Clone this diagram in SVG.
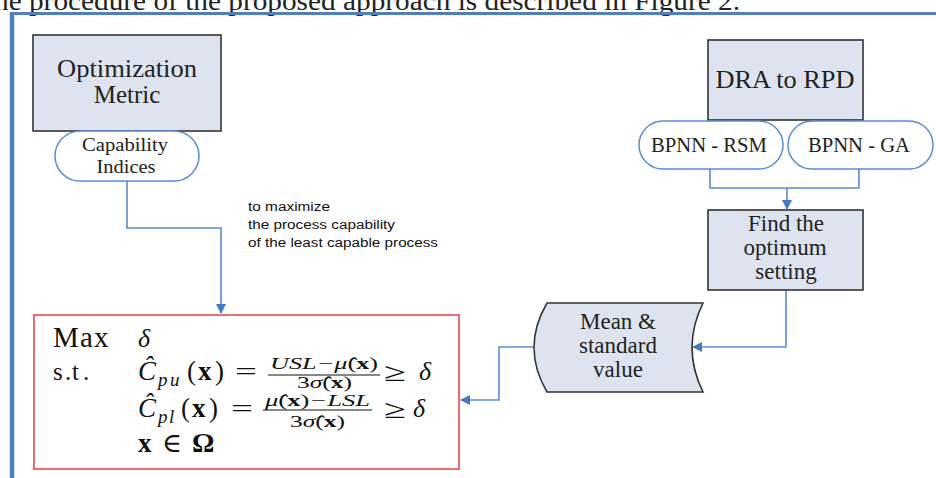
<svg xmlns="http://www.w3.org/2000/svg" width="936" height="478" viewBox="0 0 936 478">
  <style>
    .serif { font-family: "Liberation Serif", "Times New Roman", serif; fill: #222; }
    .box { fill: #dde4f0; stroke: #333; stroke-width: 1.6; }
    .pill { fill: #fff; stroke: #5b8bd3; stroke-width: 1.5; }
    .wire { fill: none; stroke: #5b8bd3; stroke-width: 1.6; }
    .note { font-family: "Liberation Sans", Arial, sans-serif; font-size: 12px; fill: #111; }
    .math { font-family: "Liberation Serif", "DejaVu Serif", serif; fill: #111; }
    .it { font-style: italic; }
    .bf { font-weight: bold; }
  </style>
  <defs>
    <marker id="arrow" markerWidth="10" markerHeight="10" refX="9" refY="5" orient="auto" markerUnits="userSpaceOnUse">
      <path d="M0,0 L10,5 L0,10 Z" fill="#4677c4"/>
    </marker>
  </defs>

  <rect width="936" height="478" fill="#fff"/>

  <!-- running text line above the figure -->
  <text class="serif" x="-6" y="10" font-size="27" textLength="746" lengthAdjust="spacingAndGlyphs">he procedure of the proposed approach is described in Figure 2.</text>

  <!-- figure frame -->
  <g id="frame">
    <line x1="10" y1="13.5" x2="936" y2="13.5" stroke="#4f7fbc" stroke-width="3"/>
    <line x1="12" y1="12" x2="12" y2="478" stroke="#4f7fbc" stroke-width="4.5"/>
  </g>

  <!-- connectors -->
  <g id="connectors">
    <path class="wire" d="M127,181 V228 H221 V313" marker-end="url(#arrow)"/>
    <path class="wire" d="M710,169 V188 H859 V169"/>
    <path class="wire" d="M787,188 V209" marker-end="url(#arrow)"/>
    <path class="wire" d="M786,290 V347 H693" marker-end="url(#arrow)"/>
    <path class="wire" d="M534,347 H499 V400 H461" marker-end="url(#arrow)"/>
  </g>

  <g id="optimization-metric">
    <rect class="box" x="33" y="35" width="188" height="96"/>
    <text class="serif" x="127" y="77" font-size="25" text-anchor="middle" textLength="140" lengthAdjust="spacingAndGlyphs">Optimization</text>
    <text class="serif" x="127" y="103" font-size="25" text-anchor="middle">Metric</text>
  </g>

  <g id="capability-indices">
    <rect class="pill" x="55" y="131" width="144" height="50" rx="25" ry="25"/>
    <text class="serif" x="125" y="151" font-size="19" text-anchor="middle" textLength="86" lengthAdjust="spacingAndGlyphs">Capability</text>
    <text class="serif" x="126" y="173" font-size="19" text-anchor="middle" textLength="59" lengthAdjust="spacingAndGlyphs">Indices</text>
  </g>

  <g id="objective-note">
    <text class="note" x="248" y="211" textLength="82" lengthAdjust="spacingAndGlyphs">to maximize</text>
    <text class="note" x="248" y="229" textLength="147" lengthAdjust="spacingAndGlyphs">the process capability</text>
    <text class="note" x="248" y="247" textLength="190" lengthAdjust="spacingAndGlyphs">of the least capable process</text>
  </g>

  <g id="dra-to-rpd">
    <rect class="box" x="708" y="40" width="155" height="80"/>
    <text class="serif" x="785" y="88" font-size="26" text-anchor="middle" textLength="139" lengthAdjust="spacingAndGlyphs">DRA to RPD</text>
  </g>

  <g id="bpnn-rsm">
    <rect class="pill" x="639" y="121" width="144" height="48" rx="24" ry="24"/>
    <text class="serif" x="709" y="152" font-size="20" text-anchor="middle" textLength="116" lengthAdjust="spacingAndGlyphs">BPNN - RSM</text>
  </g>

  <g id="bpnn-ga">
    <rect class="pill" x="788" y="121" width="145" height="48" rx="24" ry="24"/>
    <text class="serif" x="859" y="152" font-size="20" text-anchor="middle" textLength="102" lengthAdjust="spacingAndGlyphs">BPNN - GA</text>
  </g>

  <g id="find-optimum">
    <rect class="box" x="708" y="210" width="155" height="80"/>
    <text class="serif" x="786" y="231" font-size="23" text-anchor="middle">Find the</text>
    <text class="serif" x="785" y="255" font-size="23" text-anchor="middle">optimum</text>
    <text class="serif" x="786" y="279" font-size="23" text-anchor="middle">setting</text>
  </g>

  <g id="mean-standard">
    <path class="box" d="M547,303 H703 Q681,347.5 703,392 H547 Q521,347.5 547,303 Z"/>
    <text class="serif" x="618" y="329" font-size="23" text-anchor="middle">Mean &amp;</text>
    <text class="serif" x="618" y="353" font-size="23" text-anchor="middle">standard</text>
    <text class="serif" x="618" y="377" font-size="23" text-anchor="middle">value</text>
  </g>

  <g id="optimization-model">
    <rect x="34" y="315" width="425" height="154" fill="#fff" stroke="#e8484f" stroke-width="1.6"/>
    <!-- objective -->
    <text class="math" x="53 80 94" y="347" font-size="29">Max</text>
    <text class="math it" x="138" y="347" font-size="26">δ</text>
    <!-- upper capability constraint -->
    <text class="math" x="53 65 72 83" y="380" font-size="25">s.t.</text>
    <text class="math it" x="138" y="380" font-size="27">Ĉ</text>
    <text class="math it" x="158 170" y="386" font-size="19">pu</text>
    <text class="math" x="187 198 215" y="380" font-size="27">(<tspan class="bf">x</tspan>)</text>
    <text class="math" x="235" y="380" font-size="26" textLength="22" lengthAdjust="spacingAndGlyphs">=</text>
    <text class="math it" x="270" y="369" font-size="16" textLength="108" lengthAdjust="spacingAndGlyphs">USL−μ̂<tspan font-style="normal">(</tspan><tspan font-style="normal" class="bf">x</tspan><tspan font-style="normal">)</tspan></text>
    <line x1="268" y1="375" x2="380" y2="375" stroke="#111" stroke-width="1.1"/>
    <text class="math" x="297" y="388" font-size="16" textLength="55" lengthAdjust="spacingAndGlyphs">3<tspan class="it">σ̂</tspan>(<tspan class="bf">x</tspan>)</text>
    <text class="math" x="384" y="381" font-size="26" textLength="22" lengthAdjust="spacingAndGlyphs">≥</text>
    <text class="math it" x="419" y="380" font-size="26">δ</text>
    <!-- lower capability constraint -->
    <text class="math it" x="138" y="417" font-size="27">Ĉ</text>
    <text class="math it" x="158 169" y="423" font-size="19">pl</text>
    <text class="math" x="181 192 209" y="417" font-size="27">(<tspan class="bf">x</tspan>)</text>
    <text class="math" x="231" y="417" font-size="26" textLength="22" lengthAdjust="spacingAndGlyphs">=</text>
    <text class="math it" x="265" y="406" font-size="16" textLength="105" lengthAdjust="spacingAndGlyphs">μ̂<tspan font-style="normal">(</tspan><tspan font-style="normal" class="bf">x</tspan><tspan font-style="normal">)</tspan>−LSL</text>
    <line x1="263" y1="410" x2="372" y2="410" stroke="#111" stroke-width="1.1"/>
    <text class="math" x="290" y="427" font-size="16" textLength="55" lengthAdjust="spacingAndGlyphs">3<tspan class="it">σ̂</tspan>(<tspan class="bf">x</tspan>)</text>
    <text class="math" x="384" y="418" font-size="26" textLength="22" lengthAdjust="spacingAndGlyphs">≥</text>
    <text class="math it" x="413" y="417" font-size="26">δ</text>
    <!-- feasible region -->
    <text class="math bf" x="138" y="452" font-size="27">x</text>
    <text class="math" x="162" y="452" font-size="27">∈</text>
    <text class="math bf" x="192" y="452" font-size="28">Ω</text>
  </g>
</svg>
